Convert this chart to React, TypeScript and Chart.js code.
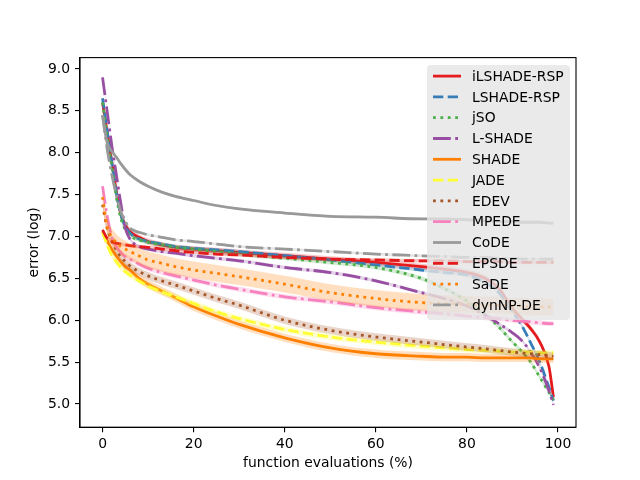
import { useEffect, useRef } from "react";
import { Chart, registerables } from "chart.js";

Chart.register(...registerables);

// x positions (% of function evaluations) at which values were read
const X_PCT = [0, 1, 2, 3, 4, 5, 6, 8, 10, 13, 16, 20, 25, 30, 40, 50, 60, 70, 75, 80, 84, 87, 90, 92, 94, 96, 98, 99];

const ILSHADE_RSP = [8.6, 8.25, 7.9, 7.55, 7.27, 7.14, 7.06, 6.99, 6.94, 6.9, 6.87, 6.85, 6.83, 6.81, 6.77, 6.73, 6.69, 6.64, 6.61, 6.57, 6.5, 6.38, 6.14, 6.02, 5.9, 5.74, 5.45, 5.08];
const LSHADE_RSP = [8.65, 8.27, 7.9, 7.53, 7.26, 7.12, 7.04, 6.97, 6.94, 6.91, 6.88, 6.86, 6.84, 6.82, 6.77, 6.72, 6.66, 6.6, 6.57, 6.54, 6.45, 6.33, 6.1, 5.94, 5.73, 5.5, 5.2, 5.04];
const JSO = [8.6, 8.2, 7.85, 7.48, 7.22, 7.08, 7.01, 6.96, 6.93, 6.9, 6.87, 6.85, 6.82, 6.79, 6.74, 6.69, 6.63, 6.5, 6.38, 6.23, 6.07, 5.92, 5.74, 5.63, 5.5, 5.32, 5.14, 5.05];
const L_SHADE = [8.9, 8.5, 8.1, 7.75, 7.4, 7.1, 6.97, 6.88, 6.85, 6.82, 6.8, 6.77, 6.74, 6.71, 6.63, 6.57, 6.47, 6.33, 6.26, 6.17, 6.06, 5.96, 5.85, 5.76, 5.62, 5.43, 5.16, 4.99];
const SHADE = [7.05, 6.95, 6.85, 6.77, 6.7, 6.64, 6.6, 6.5, 6.43, 6.35, 6.27, 6.16, 6.05, 5.95, 5.79, 5.67, 5.6, 5.57, 5.56, 5.56, 5.55, 5.55, 5.55, 5.55, 5.55, 5.54, 5.54, 5.54];
const JADE = [7.05, 6.9, 6.78, 6.7, 6.63, 6.58, 6.54, 6.47, 6.41, 6.34, 6.28, 6.2, 6.1, 6.02, 5.89, 5.8, 5.74, 5.69, 5.67, 5.65, 5.64, 5.63, 5.62, 5.62, 5.62, 5.61, 5.61, 5.61];
const EDEV = [7.38, 7.1, 6.95, 6.84, 6.76, 6.7, 6.65, 6.58, 6.53, 6.47, 6.42, 6.35, 6.26, 6.18, 6.0, 5.88, 5.8, 5.74, 5.71, 5.68, 5.66, 5.64, 5.62, 5.61, 5.6, 5.59, 5.58, 5.57];
const MPEDE = [7.6, 7.25, 7.0, 6.88, 6.81, 6.76, 6.73, 6.67, 6.62, 6.57, 6.53, 6.48, 6.42, 6.37, 6.28, 6.22, 6.15, 6.1, 6.08, 6.05, 6.03, 6.02, 6.0, 5.99, 5.98, 5.97, 5.96, 5.96];
const CODE = [8.45, 8.12, 8.02, 7.95, 7.87, 7.8, 7.74, 7.66, 7.6, 7.53, 7.48, 7.43, 7.37, 7.33, 7.28, 7.24, 7.23, 7.21, 7.21, 7.2, 7.19, 7.18, 7.18, 7.17, 7.17, 7.17, 7.16, 7.16];
const EPSDE = [7.08, 6.98, 6.94, 6.92, 6.91, 6.9, 6.89, 6.88, 6.87, 6.85, 6.83, 6.81, 6.79, 6.78, 6.75, 6.73, 6.72, 6.71, 6.71, 6.7, 6.7, 6.7, 6.69, 6.69, 6.69, 6.69, 6.69, 6.69];
const SADE = [7.47, 7.12, 7.0, 6.93, 6.88, 6.85, 6.82, 6.77, 6.72, 6.68, 6.64, 6.6, 6.56, 6.52, 6.43, 6.33, 6.26, 6.21, 6.2, 6.19, 6.18, 6.18, 6.17, 6.17, 6.16, 6.16, 6.16, 6.16];
const DYNNP_DE = [8.45, 8.05, 7.75, 7.5, 7.3, 7.18, 7.1, 7.05, 7.02, 6.99, 6.96, 6.94, 6.91, 6.88, 6.85, 6.82, 6.79, 6.77, 6.76, 6.75, 6.75, 6.74, 6.74, 6.73, 6.73, 6.73, 6.73, 6.73];

const SERIES_NAMES = ["iLSHADE-RSP", "LSHADE-RSP", "jSO", "L-SHADE", "SHADE", "JADE", "EDEV", "MPEDE", "CoDE", "EPSDE", "SaDE", "dynNP-DE"];
const SERIES_VALUES = [ILSHADE_RSP, LSHADE_RSP, JSO, L_SHADE, SHADE, JADE, EDEV, MPEDE, CODE, EPSDE, SADE, DYNNP_DE];
// half-width of the shaded spread around each mean curve
const SERIES_SPREAD = [0.035, 0.02, 0.025, 0.02, 0.05, 0.035, 0.045, 0.03, 0.015, 0.02, 0.1, 0.015];

const X_TICKS = [0, 20, 40, 60, 80, 100];
const Y_TICKS = [5.0, 5.5, 6.0, 6.5, 7.0, 7.5, 8.0, 8.5, 9.0];

const COLORS = ["#e41a1c", "#377eb8", "#4daf4a", "#984ea3", "#ff7f00", "#ffff33", "#a65628", "#f781bf", "#999999", "#e41a1c", "#ff7f00", "#999999"];
const STYLES = ["solid", "dashed", "dotted", "dashdot", "solid", "dashed", "dotted", "dashdot", "solid", "dashed", "dotted", "dashdot"];

const LW = 2.78;
const DASHES: Record<string, number[]> = {
	solid: [],
	dashed: [10.3, 4.4],
	dotted: [2.8, 4.6],
	dashdot: [17.8, 4.4, 2.8, 4.4],
};

const FONT = "'DejaVu Sans', sans-serif";

function withAlpha(hex: string, a: number) {
	const n = parseInt(hex.slice(1), 16);
	return `rgba(${(n >> 16) & 255}, ${(n >> 8) & 255}, ${n & 255}, ${a})`;
}

const framePlugin = {
	id: "frame",
	afterDatasetsDraw(chart: Chart) {
		const { ctx, chartArea: a } = chart;
		ctx.save();
		ctx.strokeStyle = "#000";
		ctx.lineWidth = 1.1;
		ctx.strokeRect(a.left, a.top, a.right - a.left, a.bottom - a.top);
		ctx.restore();
	},
};

const legendPlugin = {
	id: "insideLegend",
	afterDraw(chart: Chart) {
		const { ctx, chartArea: a } = chart;
		const w = 143;
		const h = 255;
		const x0 = a.right - 6 - w;
		const y0 = a.top + 7.5;
		ctx.save();
		ctx.fillStyle = "rgba(229, 229, 229, 0.8)";
		ctx.beginPath();
		ctx.roundRect(x0, y0, w, h, 4);
		ctx.fill();
		ctx.font = `13.9px ${FONT}`;
		ctx.textBaseline = "middle";
		SERIES_NAMES.forEach((name, i) => {
			const y = y0 + 11 + i * 20.8;
			ctx.beginPath();
			ctx.strokeStyle = COLORS[i];
			ctx.lineWidth = LW;
			ctx.lineCap = "butt";
			ctx.setLineDash(DASHES[STYLES[i]]);
			ctx.moveTo(x0 + 6, y);
			ctx.lineTo(x0 + 34, y);
			ctx.stroke();
			ctx.setLineDash([]);
			ctx.fillStyle = "#000";
			ctx.fillText(name, x0 + 45, y + 1);
		});
		ctx.restore();
	},
};

export default function App() {
	const canvasRef = useRef<HTMLCanvasElement | null>(null);

	useEffect(() => {
		if (!canvasRef.current) return;

		const datasets: any[] = [];
		SERIES_VALUES.forEach((vals, i) => {
			const upper = vals.map((v, k) => ({ x: X_PCT[k], y: v + SERIES_SPREAD[i] }));
			const lower = vals.map((v, k) => ({ x: X_PCT[k], y: v - SERIES_SPREAD[i] }));
			const base = {
				pointRadius: 0,
				borderWidth: 0,
				cubicInterpolationMode: "monotone",
			};
			datasets.push({
				...base,
				label: SERIES_NAMES[i] + " band",
				data: upper,
				borderColor: "transparent",
				backgroundColor: withAlpha(COLORS[i], 0.25),
				fill: "+1",
				order: 1000 - 3 * i,
			});
			datasets.push({
				...base,
				label: SERIES_NAMES[i] + " band low",
				data: lower,
				borderColor: "transparent",
				fill: false,
				order: 1000 - 3 * i - 1,
			});
			datasets.push({
				label: SERIES_NAMES[i],
				data: vals.map((v, k) => ({ x: X_PCT[k], y: v })),
				borderColor: COLORS[i],
				borderWidth: LW,
				borderDash: DASHES[STYLES[i]],
				borderCapStyle: "butt",
				pointRadius: 0,
				fill: false,
				cubicInterpolationMode: "monotone",
				order: 1000 - 3 * i - 2,
			});
		});

		const chart = new Chart(canvasRef.current, {
			type: "line",
			data: { datasets },
			options: {
				animation: false,
				responsive: false,
				devicePixelRatio: 1,
				layout: { padding: { top: 57.6, right: 64, bottom: 0, left: 0 } },
				plugins: {
					legend: { display: false },
					tooltip: { enabled: false },
				},
				scales: {
					x: {
						type: "linear",
						min: -4.95,
						max: 103.95,
						afterFit: (s: any) => {
							s.height = 52.8;
						},
						afterBuildTicks: (s: any) => {
							s.ticks = X_TICKS.map((v) => ({ value: v }));
						},
						grid: { drawOnChartArea: false, color: "#000", tickLength: 5, lineWidth: 1.1 },
						border: { display: true, color: "#000", width: 1.1 },
						ticks: {
							color: "#000",
							padding: 4,
							maxRotation: 0,
							font: { family: FONT, size: 13.9 },
							callback: (v: any) => String(v),
						},
						title: {
							display: true,
							text: "function evaluations (%)",
							color: "#000",
							font: { family: FONT, size: 13.9 },
							padding: { top: 0, bottom: 8.7 },
						},
					},
					y: {
						type: "linear",
						min: 4.723,
						max: 9.136,
						afterFit: (s: any) => {
							s.width = 80;
						},
						afterBuildTicks: (s: any) => {
							s.ticks = Y_TICKS.map((v) => ({ value: v }));
						},
						grid: { drawOnChartArea: false, color: "#000", tickLength: 5, lineWidth: 1.1 },
						border: { display: true, color: "#000", width: 1.1 },
						ticks: {
							color: "#000",
							padding: 5,
							font: { family: FONT, size: 13.9 },
							callback: (v: any) => Number(v).toFixed(1),
						},
						title: {
							display: true,
							text: "error (log)",
							color: "#000",
							font: { family: FONT, size: 13.9 },
							padding: { top: 26.5, bottom: 0 },
						},
					},
				},
			},
			plugins: [framePlugin, legendPlugin],
		});

		return () => {
			chart.destroy();
		};
	}, []);

	return (
		<div style={{ position: "absolute", left: 0, top: 0, width: 640, height: 480, background: "#fff" }}>
			<canvas ref={canvasRef} width={640} height={480} />
		</div>
	);
}
